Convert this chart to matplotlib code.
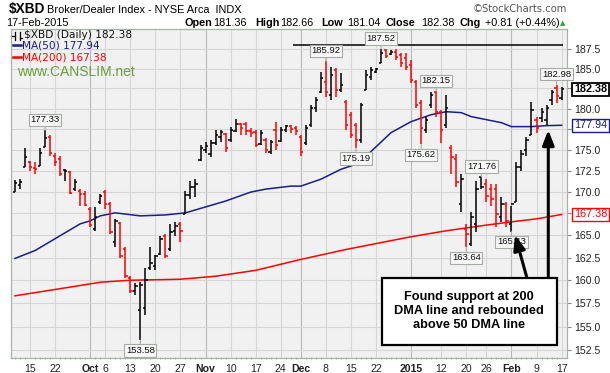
import numpy as np
import pandas as pd
import matplotlib
matplotlib.use("Agg")
import matplotlib.pyplot as plt
from matplotlib.ticker import FixedLocator, FixedFormatter, NullLocator
from matplotlib.patches import Rectangle
from matplotlib.lines import Line2D

plt.rcParams['font.family'] = ['Liberation Sans', 'DejaVu Sans']

# ---------------- data ----------------
holidays = ["2014-11-27", "2014-12-25", "2015-01-01", "2015-01-19", "2015-02-16"]
dates = pd.bdate_range("2014-09-10", "2015-02-17")
dates = dates[~dates.isin(pd.to_datetime(holidays))]

opens = [169.97, 170.78, 172.88, 173.47, 172.77, 173.00, 175.37, 176.57, 174.18, 173.83,
         172.53, 172.30, 170.32, 170.08, 169.74, 168.02, 165.75, 168.82, 169.97, 168.59,
         164.29, 166.43, 163.52, 160.22, 158.82, 156.78, 157.00, 161.31, 161.53, 162.96,
         164.96, 163.52, 165.52, 166.31, 167.45, 169.62, 170.55, 173.71, 175.01, 174.42,
         175.85, 176.57, 176.93, 176.21, 177.29, 178.14, 178.14, 177.29, 177.17, 175.73,
         176.21, 174.77, 177.42, 176.09, 177.42, 177.90, 177.66, 176.57, 175.85, 178.02,
         180.10, 182.08, 183.32, 181.70, 184.83, 182.33, 180.84, 179.24, 178.02, 176.21,
         182.33, 183.95, 184.57, 185.71, 187.37, 186.86, 187.12, 186.73, 186.35, 185.46,
         183.32, 180.72, 177.42, 180.47, 182.08, 179.61, 178.02, 175.25, 173.83, 168.59,
         165.75, 164.07, 166.31, 171.71, 170.90, 170.32, 170.32, 167.10, 168.59, 166.31,
         168.82, 172.88, 175.01, 176.81, 178.63, 178.87, 178.63, 181.09, 182.58, 181.36]
highs = [171.36, 171.48, 175.25, 173.59, 173.47, 175.25, 177.33, 176.81, 174.65, 174.18,
         172.65, 172.41, 171.48, 170.32, 170.08, 168.25, 168.25, 169.74, 170.20, 168.82,
         166.88, 166.54, 163.74, 160.44, 159.68, 159.78, 161.31, 163.74, 162.74, 164.96,
         165.19, 166.31, 166.54, 166.54, 170.08, 171.25, 171.48, 175.61, 175.97, 176.21,
         177.42, 177.42, 177.05, 177.78, 178.75, 178.26, 178.39, 177.66, 177.42, 177.42,
         176.45, 176.21, 178.39, 177.78, 178.02, 178.02, 177.90, 176.81, 178.02, 180.47,
         181.46, 184.57, 185.92, 185.21, 185.08, 184.45, 181.09, 179.61, 178.26, 180.72,
         184.83, 185.21, 185.08, 187.52, 187.45, 187.37, 187.45, 186.99, 186.99, 186.10,
         183.57, 181.09, 179.00, 182.08, 182.15, 179.85, 181.70, 175.61, 174.42, 172.06,
         166.31, 167.68, 171.25, 171.76, 171.48, 170.90, 170.90, 169.39, 168.82, 168.36,
         173.47, 175.01, 176.57, 180.84, 179.00, 180.10, 180.47, 182.33, 182.98, 182.66]
lows = [169.97, 170.32, 172.88, 172.41, 172.06, 173.00, 175.37, 174.18, 173.00, 171.83,
        171.25, 169.74, 170.08, 168.36, 168.36, 165.97, 165.52, 168.59, 168.02, 165.19,
        163.74, 162.41, 160.22, 158.60, 158.39, 153.58, 156.25, 161.09, 161.09, 162.74,
        162.41, 163.29, 164.96, 164.29, 167.45, 169.16, 169.39, 173.59, 174.65, 174.06,
        175.61, 175.97, 174.77, 175.97, 177.17, 176.81, 176.81, 176.57, 175.37, 175.61,
        174.65, 174.42, 175.01, 175.97, 177.17, 177.05, 176.81, 174.18, 175.61, 177.78,
        179.61, 181.96, 181.46, 181.09, 181.46, 182.08, 177.42, 176.45, 175.19, 175.85,
        182.33, 183.57, 184.45, 185.71, 186.35, 186.73, 186.10, 185.21, 184.83, 183.20,
        180.10, 175.62, 177.05, 180.10, 179.00, 175.85, 177.66, 172.06, 170.55, 167.68,
        163.64, 163.85, 165.41, 170.32, 168.82, 168.36, 165.97, 166.54, 165.97, 165.43,
        168.82, 172.41, 174.18, 176.81, 177.05, 178.39, 178.02, 180.47, 180.72, 181.04]
closes = [171.02, 171.13, 174.06, 172.88, 172.65, 174.65, 176.45, 174.65, 173.47, 172.06,
          172.41, 169.85, 171.13, 169.74, 168.47, 166.20, 167.10, 169.51, 168.59, 165.41,
          166.65, 162.63, 160.44, 158.82, 159.35, 159.46, 160.00, 161.86, 162.63, 164.63,
          162.63, 165.41, 166.09, 165.52, 169.62, 170.55, 170.90, 175.25, 175.49, 175.85,
          176.81, 177.17, 175.25, 177.42, 178.14, 177.66, 177.29, 177.05, 175.61, 177.05,
          175.01, 175.97, 175.61, 177.42, 177.90, 177.54, 177.29, 174.77, 177.66, 180.10,
          181.09, 183.82, 182.08, 184.20, 182.33, 182.95, 178.02, 176.81, 176.21, 180.47,
          184.20, 184.83, 184.95, 186.99, 186.60, 187.12, 186.48, 185.71, 185.21, 183.57,
          180.47, 177.66, 178.63, 181.70, 179.61, 177.42, 180.10, 174.06, 171.13, 171.48,
          165.19, 167.10, 170.32, 170.55, 169.51, 169.16, 167.45, 168.59, 166.65, 168.59,
          172.88, 174.42, 176.21, 179.85, 177.66, 179.61, 180.10, 182.08, 181.57, 182.38]

ma50_dates = ["2014-09-10", "2014-09-16", "2014-09-23", "2014-09-29", "2014-10-01", "2014-10-03",
              "2014-10-08", "2014-10-15", "2014-10-22", "2014-10-28", "2014-11-03", "2014-11-07",
              "2014-11-14", "2014-11-19", "2014-11-26", "2014-12-01", "2014-12-05", "2014-12-11",
              "2014-12-16", "2014-12-19", "2014-12-26", "2015-01-02", "2015-01-08", "2015-01-13",
              "2015-01-16", "2015-01-21", "2015-01-26", "2015-01-29", "2015-02-02", "2015-02-06",
              "2015-02-11", "2015-02-17"]
ma50_vals = [162.41, 163.29, 164.96, 166.31, 166.65, 167.22, 167.57, 167.22, 167.33, 167.57,
             168.25, 168.93, 169.97, 170.32, 170.67, 170.67, 171.48, 172.65, 173.24, 174.77,
             177.05, 178.39, 179.24, 179.61, 179.49, 179.00, 178.63, 178.26, 177.78, 177.78,
             177.90, 177.94]
ma200_dates = ["2014-09-10", "2014-09-25", "2014-10-03", "2014-10-13", "2014-10-27", "2014-11-05",
               "2014-11-17", "2014-12-01", "2014-12-12", "2015-01-02", "2015-01-13", "2015-01-23",
               "2015-02-02", "2015-02-09", "2015-02-17"]
ma200_vals = [158.30, 159.25, 159.78, 160.00, 160.11, 160.44, 161.09, 162.30, 163.41, 164.85,
              165.52, 166.09, 166.54, 166.88, 167.38]

tag_dates = ["2014-09-18", "2014-10-15", "2014-12-08", "2014-12-23", "2014-12-16", "2015-01-09",
             "2015-01-06", "2015-01-23", "2015-01-20", "2015-02-02", "2015-02-13"]
tag_vals = [177.33, 153.58, 185.92, 187.52, 175.19, 182.15, 175.62, 171.76, 163.64, 165.43, 182.98]
tag_above = [True, False, True, True, False, True, False, True, False, False, True]

tick_dates = ["2014-09-15", "2014-09-22", "2014-10-01", "2014-10-06", "2014-10-13", "2014-10-20",
              "2014-10-27", "2014-11-03", "2014-11-10", "2014-11-17", "2014-11-24", "2014-12-01",
              "2014-12-08", "2014-12-15", "2014-12-22", "2015-01-02", "2015-01-12", "2015-01-20",
              "2015-01-26", "2015-02-02", "2015-02-09", "2015-02-17"]
tick_labels = ["15", "22", "Oct", "6", "13", "20", "27", "Nov", "10", "17", "24", "Dec",
               "8", "15", "22", "2015", "12", "20", "26", "Feb", "9", "17"]
month_labels = {"Oct", "Nov", "Dec", "2015", "Feb"}
y_ticks = [152.5, 155.0, 157.5, 160.0, 162.5, 165.0, 167.5, 170.0, 172.5, 175.0,
           177.5, 180.0, 182.5, 185.0, 187.5]
y_hidden = [167.5, 177.5, 182.5]   # covered by the value tags in the reference
resistance_level = 188.0
resistance_start = "2014-11-26"

last_open, last_high, last_low, last_close = 181.36, 182.66, 181.04, 182.38
chg, chg_pct = 0.81, 0.44
ma50_last, ma200_last = 177.94, 167.38

# ---------------- helpers ----------------
pos_map = {d: k for k, d in enumerate(dates)}
def P(d):
    return pos_map[pd.Timestamp(d)]

W, H = 610, 373
def fx(px):
    return px / W
def fy(py):
    return 1 - py / H

fig = plt.figure(figsize=(W / 100, H / 100), dpi=100)
fig.patch.set_facecolor("white")
ax = fig.add_axes([fx(11), fy(358), (567 - 11) / W, (358 - 29) / H])
ax.set_facecolor("#f1f1f1")
ax.set_yscale("log")

n = len(dates)
x = np.arange(n)
o = np.array(opens); h = np.array(highs); l = np.array(lows); c = np.array(closes)
prev = np.concatenate([[c[0] - 1], c[:-1]])
cols = np.where(c >= prev, "black", "#ff0000")

ax.set_xlim(-0.79, 110.08)
ax.set_ylim(151.69, 190.09)

# grid
tpos = [P(d) for d in tick_dates]
for tp, lab in zip(tpos, tick_labels):
    ax.axvline(tp, color="#b9b9b9" if lab in month_labels else "#d6d6d6", lw=0.8, zorder=0)
for yt in y_ticks:
    ax.axhline(yt, color="#d6d6d6", lw=0.8, zorder=0)

# moving averages
ax.plot([P(d) for d in ma50_dates], ma50_vals, color="#1c1c8a", lw=1.1, zorder=2)
ax.plot([P(d) for d in ma200_dates], ma200_vals, color="#ff0000", lw=1.1, zorder=2)

# OHLC bars
tk = 0.45
ax.vlines(x, l, h, colors=cols, lw=1.1, zorder=3)
ax.hlines(o, x - tk, x, colors=cols, lw=1.1, zorder=3)
ax.hlines(c, x, x + tk, colors=cols, lw=1.1, zorder=3)

# resistance line
ax.hlines(resistance_level, P(resistance_start) + 0.5, n - 1 + 0.3, colors="black", lw=1.1, zorder=3)

# price tags
for d, v, up in zip(tag_dates, tag_vals, tag_above):
    ax.annotate(f"{v:.2f}", xy=(P(d), v), xytext=(0, 7.5 if up else -7.5), textcoords="offset points",
                ha="center", va="center", fontsize=6.8, color="#111",
                bbox=dict(boxstyle="square,pad=0.18", fc="#f8f8f8", ec="#a4aca4", lw=0.8),
                arrowprops=dict(arrowstyle="-", color="#a4aca4", lw=0.8, shrinkA=0, shrinkB=0),
                zorder=5)

# axes styling
for s in ax.spines.values():
    s.set_color("#a9b2a9")
    s.set_linewidth(0.9)
ax.yaxis.tick_right()
ax.yaxis.set_major_locator(FixedLocator(y_ticks))
ax.yaxis.set_major_formatter(FixedFormatter(["" if v in y_hidden else f"{v:.1f}" for v in y_ticks]))
ax.yaxis.set_minor_locator(NullLocator())
ax.tick_params(axis="y", which="major", length=3, color="#888888", pad=2, labelsize=7.6, labelcolor="#222")
ax.xaxis.set_major_locator(FixedLocator(tpos))
ax.xaxis.set_major_formatter(FixedFormatter(tick_labels))
ax.xaxis.set_minor_locator(FixedLocator(list(x)))
ax.tick_params(axis="x", which="major", length=0, pad=4, labelsize=7.6, labelcolor="#222")
ax.tick_params(axis="x", which="minor", length=2, color="#999999", direction="inout")
for t in ax.get_xticklabels():
    if t.get_text() in month_labels:
        t.set_fontweight("bold")

# right-side value tags
for val, col, bold in [(last_close, "black", True), (ma50_last, "#1c1c8a", False), (ma200_last, "#ff0000", False)]:
    ax.annotate(f"{val:.2f}", xy=(1.0, val), xycoords=("axes fraction", "data"),
                xytext=(5, 0), textcoords="offset points", ha="left", va="center",
                fontsize=7.8, color=col, fontweight="bold" if bold else "normal",
                bbox=dict(boxstyle="square,pad=0.15", fc="white", ec=col, lw=1.0 if not bold else 1.3),
                annotation_clip=False, zorder=10)

# callout box
ax.add_patch(Rectangle(((382 - 11) / 556, (358 - 345) / 329), (557 - 382) / 556, (345 - 278) / 329,
                       transform=ax.transAxes, fc="white", ec="black", lw=1.6, zorder=6))
ax.text((469 - 11) / 556, (358 - 311) / 329,
        "Found support at 200\nDMA line and rebounded\nabove 50 DMA line",
        transform=ax.transAxes, ha="center", va="center", fontsize=9.2, fontweight="bold",
        linespacing=1.2, zorder=7)
for (x0, y0, x1, y1) in [(526.7, 277, 515, 235), (548.3, 277, 548.3, 130)]:
    ax.annotate("", xy=((x1 - 11) / 556, (358 - y1) / 329), xycoords="axes fraction",
                xytext=((x0 - 11) / 556, (358 - y0) / 329), textcoords="axes fraction",
                arrowprops=dict(arrowstyle="-|>,head_length=0.9,head_width=0.35", color="black", lw=2.2,
                                shrinkA=0, shrinkB=0),
                zorder=8)

# legend inside plot
fig.add_artist(Line2D([fx(14.5), fx(14.5)], [fy(32), fy(40)], color="black", lw=0.9))
fig.add_artist(Line2D([fx(12.5), fx(14.5)], [fy(36), fy(36)], color="black", lw=0.9))
fig.add_artist(Line2D([fx(19.5), fx(19.5)], [fy(32), fy(40)], color="black", lw=0.9))
fig.add_artist(Line2D([fx(19.5), fx(21.5)], [fy(38), fy(38)], color="black", lw=0.9))
fig.text(fx(24), fy(35.5), f"$XBD (Daily) {last_close:.2f}", fontsize=7.6, family="DejaVu Sans",
         va="center", ha="left", color="#111")
fig.add_artist(Line2D([fx(13), fx(21)], [fy(45), fy(45)], color="#1c1c8a", lw=1.8))
fig.text(fx(22), fy(45.5), f"MA(50) {ma50_last:.2f}", fontsize=7.6, family="DejaVu Sans",
         va="center", ha="left", color="#1c1c8a")
fig.add_artist(Line2D([fx(13), fx(21)], [fy(57), fy(57)], color="#ff0000", lw=1.8))
fig.text(fx(22), fy(57.5), f"MA(200) {ma200_last:.2f}", fontsize=7.6, family="DejaVu Sans",
         va="center", ha="left", color="#ff0000")
fig.text(fx(17), fy(72), "www.CANSLIM.net", fontsize=10, va="center", ha="left", color="#6a9f3a")

# header
fig.text(fx(9), fy(9.5), "$XBD", fontsize=9.8, fontweight="bold", va="center", ha="left")
fig.text(fx(47), fy(10), "Broker/Dealer Index - NYSE Arca  INDX", fontsize=7.9,
         va="center", ha="left")
fig.text(fx(567), fy(9.5), "\u00a9StockCharts.com", fontsize=7.2, family="DejaVu Sans",
         va="center", ha="right", color="#555555")
fig.text(fx(6), fy(23), "17-Feb-2015", fontsize=7.8, va="center", ha="left")
hdr = [(184, "Open", True), (213, f"{last_open:.2f}", False), (255, "High", True),
       (280, f"{last_high:.2f}", False), (321, "Low", True), (347, f"{last_low:.2f}", False),
       (386, "Close", True), (421, f"{last_close:.2f}", False), (460, "Chg", True),
       (485, f"+{chg:.2f} (+{chg_pct:.2f}%)", False)]
for px, s, b in hdr:
    fig.text(fx(px), fy(23), s, fontsize=7.8, fontweight="bold" if b else "normal", va="center", ha="left")
fig.text(fx(563), fy(23.5), "\u25b2", fontsize=5, color="#22aa22", va="center", ha="center",
         family="DejaVu Sans")

fig.savefig("out.png", dpi=100, facecolor="white")
